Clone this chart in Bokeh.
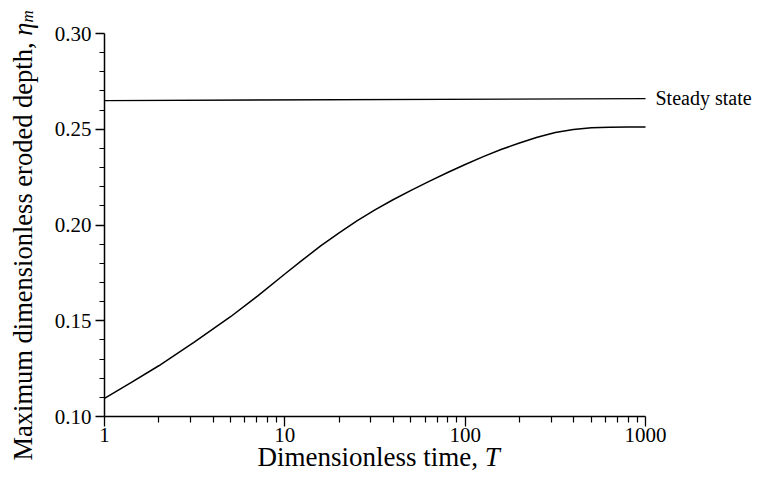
from math import pi
from bokeh.plotting import figure
from bokeh.models import FixedTicker, PrintfTickFormatter, Label, Range1d
from bokeh.embed import file_html
from bokeh.resources import INLINE

# ---- data ----
time_T = [1, 1.41, 2, 3.16, 5, 7.08, 10, 12.6, 15.8, 20, 25.1, 31.6, 39.8, 50.1, 63.1, 79.4,
          100, 126, 158, 200, 251, 316, 398, 501, 631, 794, 1000]
eta_m = [0.1095, 0.1178, 0.1265, 0.1390, 0.1521, 0.1630, 0.1744, 0.1819, 0.1891, 0.1959,
         0.2021, 0.2079, 0.2132, 0.2181, 0.2228, 0.2273, 0.2316, 0.2357, 0.2394, 0.2428,
         0.2458, 0.2483, 0.2499, 0.2508, 0.2511, 0.2512, 0.2512]
steady_T = [1, 1000]
steady_eta = [0.2650, 0.2660]

x_major = [1, 10, 100, 1000]
x_minor = [2, 3, 4, 5, 6, 7, 8, 9, 20, 30, 40, 50, 60, 70, 80, 90,
           200, 300, 400, 500, 600, 700, 800, 900]
y_major = [0.10, 0.15, 0.20, 0.25, 0.30]
y_minor = [0.11, 0.12, 0.13, 0.14, 0.16, 0.17, 0.18, 0.19, 0.21, 0.22, 0.23, 0.24,
           0.26, 0.27, 0.28, 0.29]

FONT = "Liberation Serif"

# canvas geometry: plot area of the axes in canvas pixels
W, H = 752, 473
AX_L, AX_R, AX_T, AX_B = 104, 645, 33, 416
DEC = (AX_R - AX_L) / 3.0          # px per decade
PPU = (AX_B - AX_T) / 0.20         # px per unit of eta

def px_T(px):
    return 10 ** ((px - AX_L) / DEC)

def px_eta(py):
    return 0.10 + (AX_B - py) / PPU

# frame covers the whole canvas; axes are pinned at T=1 and eta=0.10
p = figure(width=W, height=H, x_axis_type="log",
           x_range=Range1d(px_T(0), px_T(W)), y_range=Range1d(px_eta(H), px_eta(0)),
           output_backend="svg", toolbar_location=None, title=None,
           min_border=0)
p.min_border_left = 0
p.min_border_right = 0
p.min_border_top = 0
p.min_border_bottom = 0
p.outline_line_color = None
p.xgrid.visible = False
p.ygrid.visible = False
p.background_fill_color = "white"
p.border_fill_color = "white"

p.line(time_T, eta_m, line_color="black", line_width=1.5)
p.line(steady_T, steady_eta, line_color="black", line_width=1.3)

# axes
xa = p.xaxis[0]
ya = p.yaxis[0]
xa.ticker = FixedTicker(ticks=x_major, minor_ticks=x_minor)
xa.formatter = PrintfTickFormatter(format="%d")
ya.ticker = FixedTicker(ticks=y_major, minor_ticks=y_minor)
ya.formatter = PrintfTickFormatter(format="%.2f")
xa.fixed_location = y_major[0]
ya.fixed_location = x_major[0]
xa.bounds = (x_major[0], x_major[-1])
ya.bounds = (y_major[0], y_major[-1])
for ax in (xa, ya):
    ax.axis_line_color = "black"
    ax.axis_line_width = 1.5
    ax.major_tick_line_color = "black"
    ax.minor_tick_line_color = "black"
    ax.major_tick_line_width = 1.3
    ax.minor_tick_line_width = 1.2
    ax.major_tick_in = 0
    ax.minor_tick_in = 0
    ax.major_label_text_font = FONT
    ax.major_label_text_font_size = "21px"
    ax.major_label_text_color = "black"
    ax.major_label_text_font_style = "normal"
xa.major_tick_out = 10
xa.minor_tick_out = 6
xa.major_label_standoff = 1
ya.major_tick_out = 9
ya.minor_tick_out = 5
ya.major_label_standoff = 4

# Bokeh draws "alphabetic" anchored text about 0.3 em below the anchor
SHIFT = 0.3

# x axis title
XS = 27
x_base = 465 - SHIFT * XS
xl = Label(x=px_T(257), y=px_eta(x_base), text="Dimensionless time, ",
           text_font=FONT, text_font_size=f"{XS}px", text_color="black",
           text_align="left", text_baseline="alphabetic")
xt = Label(x=px_T(257 + 8.417 * XS), y=px_eta(x_base), text="T",
           text_font=FONT, text_font_size=f"{XS}px", text_font_style="italic",
           text_color="black", text_align="left", text_baseline="alphabetic")

# y axis title (rotated)
YS = 26.5
y0 = 460
y_base = 30 - SHIFT * YS
yl = Label(x=px_T(y_base), y=px_eta(y0), text="Maximum dimensionless eroded depth, ",
           text_font=FONT, text_font_size=f"{YS}px", text_color="black",
           angle=pi / 2, text_align="left", text_baseline="alphabetic")
eta_start = y0 - 16.027 * YS
ye = Label(x=px_T(y_base), y=px_eta(eta_start), text="η",
           text_font=FONT, text_font_size=f"{YS}px", text_font_style="italic",
           text_color="black", angle=pi / 2, text_align="left", text_baseline="alphabetic")
ym = Label(x=px_T(y_base + 5), y=px_eta(eta_start - 0.5 * YS), text="m",
           text_font=FONT, text_font_size="17px", text_font_style="italic",
           text_color="black", angle=pi / 2, text_align="left", text_baseline="alphabetic")

# steady state annotation
ss = Label(x=steady_T[-1], y=steady_eta[-1], x_offset=10, y_offset=1, text="Steady state",
           text_font=FONT, text_font_size="20px", text_color="black",
           text_align="left", text_baseline="middle")

for lab in (xl, xt, yl, ye, ym, ss):
    p.add_layout(lab)

open("out.html", "w").write(file_html(p, INLINE))
